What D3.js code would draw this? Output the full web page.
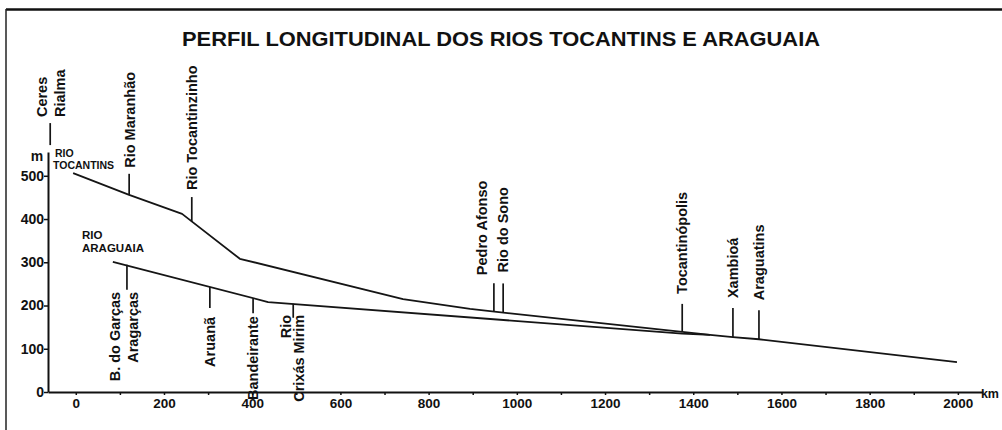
<!DOCTYPE html>
<html>
<head>
<meta charset="utf-8">
<script src="https://cdn.jsdelivr.net/npm/d3@7"></script>
<style>
    body { margin: 0; background: #fff; }
    svg text { font-family: "Liberation Sans", Arial, sans-serif; font-weight: bold; fill: #111; }
</style>
</head>
<body>
<svg id="chart"></svg>
<script>
// river profiles: distance (km) and altitude (m)
const tocantinsKm   = [-6, 121, 241, 372, 742, 894, 1375, 1438, 1490, 1549, 1998];
const tocantinsElev = [506, 456, 412, 308, 215, 192, 139, 132, 127, 122, 69];

const araguaiaKm   = [84, 436, 1375, 1438];
const araguaiaElev = [301, 208, 135, 132];

// places marked above the Tocantins line
const upNames = [["Ceres", "Rialma"], ["Rio Maranhão"], ["Rio Tocantinzinho"], ["Pedro Afonso"],
                 ["Rio do Sono"], ["Tocantinópolis"], ["Xambioá"], ["Araguatins"]];
const upKm   = [-58, 121, 263, 948, 969, 1375, 1490, 1549];
const upElev = [571, 456, 393, 187, 184, 139, 127, 122];

// places marked below the Araguaia line
const downNames = [["B. do Garças", "Aragarças"], ["Aruanã"], ["Bandeirante"], ["Rio", "Crixás Mirim"]];
const downKm   = [116, 304, 402, 493];
const downElev = [294, 243, 217, 204];

const yTicks = [0, 100, 200, 300, 400, 500];
const xTicks = d3.range(0, 2001, 100);
const xLabels = [0, 200, 400, 600, 800, 1000, 1200, 1400, 1600, 1800, 2000];

// layout for each marker: tick length, gap to label, offset of each text line
const upLayout = [
    { len: 22, gap: 6, dx: [-8, 10] },
    { len: 21, gap: 6, dx: [1] },
    { len: 25, gap: 7, dx: [0] },
    { len: 28, gap: 8, dx: [-12] },
    { len: 29, gap: 11, dx: [0] },
    { len: 28, gap: 10, dx: [0] },
    { len: 29, gap: 10, dx: [0] },
    { len: 29, gap: 10, dx: [0] }
];
const downLayout = [
    { len: 25, gap: 2, dx: [-12, 6] },
    { len: 21, gap: 9, dx: [0] },
    { len: 15, gap: 3, dx: [0] },
    { len: 14, gap: -3, dx: [-7, 6] }
];

const width = 1002, height = 430;

const svg = d3.select("#chart")
    .attr("width", width)
    .attr("height", height);

const x = d3.scaleLinear().domain([-63, 2057]).range([48, 983]);
const y = d3.scaleLinear().domain([0, 555]).range([392, 152]);

// frame
svg.append("line")
    .attr("x1", 6).attr("x2", width)
    .attr("y1", 9.5).attr("y2", 9.5)
    .attr("stroke", "#111").attr("stroke-width", 2.5);
svg.append("line")
    .attr("x1", 6).attr("x2", 6)
    .attr("y1", 9).attr("y2", height)
    .attr("stroke", "#222").attr("stroke-width", 1.5);

// title
svg.append("text")
    .attr("x", 501)
    .attr("y", 46)
    .attr("text-anchor", "middle")
    .attr("textLength", 638)
    .attr("lengthAdjust", "spacingAndGlyphs")
    .style("font-size", "21px")
    .text("PERFIL LONGITUDINAL DOS RIOS TOCANTINS E ARAGUAIA");

// axes
const xAxis = d3.axisBottom(x)
    .tickValues(xTicks)
    .tickSizeInner(3)
    .tickSizeOuter(0)
    .tickPadding(3)
    .tickFormat(d => xLabels.includes(d) ? d : "");

const gx = svg.append("g")
    .attr("transform", `translate(0,${y(0)})`)
    .call(xAxis);
gx.select(".domain").attr("stroke", "#111").attr("stroke-width", 2);
gx.selectAll(".tick line").attr("stroke", "#111").attr("stroke-width", 1.5);
gx.selectAll(".tick text").style("font-size", "13.5px").attr("fill", "#111");

const yAxis = d3.axisLeft(y)
    .tickValues(yTicks)
    .tickSizeInner(4)
    .tickSizeOuter(0)
    .tickPadding(0);

const gy = svg.append("g")
    .attr("transform", `translate(${x(-63)},0)`)
    .call(yAxis);
gy.select(".domain").attr("stroke", "#111").attr("stroke-width", 2);
gy.selectAll(".tick line").attr("stroke", "#111").attr("stroke-width", 1.5);
gy.selectAll(".tick text").style("font-size", "14px").attr("fill", "#111");

svg.append("text").attr("x", 37).attr("y", 161)
    .attr("text-anchor", "middle").style("font-size", "14px").text("m");
svg.append("text").attr("x", 999).attr("y", 398)
    .attr("text-anchor", "end")
    .style("font-size", "12.5px").text("km");

// river lines
const line = d3.line()
    .x(d => x(d[0]))
    .y(d => y(d[1]));

const rivers = [d3.zip(tocantinsKm, tocantinsElev), d3.zip(araguaiaKm, araguaiaElev)];

svg.selectAll(".river")
    .data(rivers)
    .join("path")
    .attr("class", "river")
    .attr("d", line)
    .attr("fill", "none")
    .attr("stroke", "#151515")
    .attr("stroke-width", 1.8)
    .attr("stroke-linejoin", "round");

// river names
svg.append("text").attr("x", 55).attr("y", 157).style("font-size", "10.5px").text("RIO");
svg.append("text").attr("x", 53).attr("y", 169).style("font-size", "10.5px").text("TOCANTINS");
svg.append("text").attr("x", 82).attr("y", 239).style("font-size", "11.5px").text("RIO");
svg.append("text").attr("x", 82).attr("y", 252).style("font-size", "11.5px").text("ARAGUAIA");

// markers
function markers(names, kms, elevs, layout, dir) {
    const data = names.map((n, i) => ({ lines: n, km: kms[i], elev: elevs[i], lay: layout[i] }));

    const g = svg.selectAll(".marker-" + dir)
        .data(data)
        .join("g")
        .attr("class", "marker-" + dir);

    g.append("line")
        .attr("x1", d => x(d.km)).attr("x2", d => x(d.km))
        .attr("y1", d => y(d.elev))
        .attr("y2", d => dir === "up" ? y(d.elev) - d.lay.len : y(d.elev) + d.lay.len)
        .attr("stroke", "#151515")
        .attr("stroke-width", 1.7);

    g.each(function(d) {
        const sel = d3.select(this);
        const ty = dir === "up" ? y(d.elev) - d.lay.len - d.lay.gap : y(d.elev) + d.lay.len + d.lay.gap;
        d.lines.forEach((t, j) => {
            const tx = x(d.km) + d.lay.dx[j];
            sel.append("text")
                .attr("transform", `translate(${tx},${ty}) rotate(-90)`)
                .attr("dy", "0.35em")
                .attr("text-anchor", dir === "up" ? "start" : "end")
                .style("font-size", "14.5px")
                .text(t);
        });
    });
}

markers(upNames, upKm, upElev, upLayout, "up");
markers(downNames, downKm, downElev, downLayout, "down");
</script>
</body>
</html>
